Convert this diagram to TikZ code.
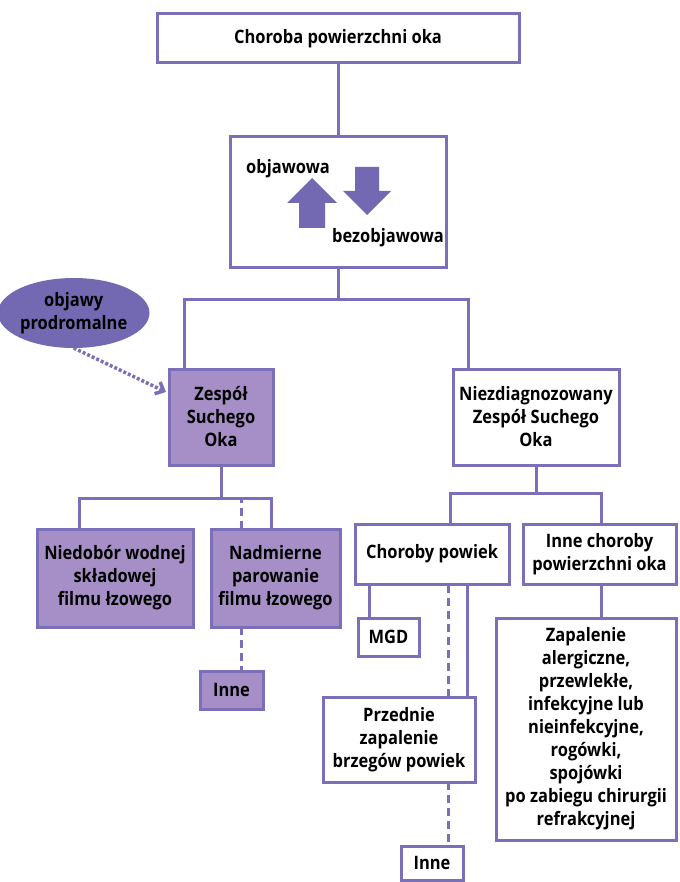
\documentclass[tikz,border=0pt]{standalone}
\usepackage{fontspec}
\setmainfont{Open Sans}[BoldFeatures={FakeStretch=0.89}]
\usetikzlibrary{shapes, arrows.meta, positioning}
\definecolor{lineC}{RGB}{122,112,186}
\definecolor{lavC}{RGB}{166,143,198}
\definecolor{ovalC}{RGB}{115,104,178}

\begin{document}
\begin{tikzpicture}[x=1pt, y=-1pt,
        box/.style={draw=lineC, line width=3pt, rectangle, align=center, fill=white, inner sep=0pt, outer sep=0pt, font=\fontsize{18.5}{23}\selectfont\bfseries},
        dsobox/.style={box, fill=lavC},
        txt/.style={inner sep=0pt, font=\fontsize{18.5}{23}\selectfont\bfseries},
        link/.style={draw=lineC, line width=3pt},
        dashlink/.style={link, dash pattern=on 8pt off 5pt},
        arrow/.style={-{Straight Barb[length=7pt, width=13pt]}, lineC, line width=3.5pt, dash pattern=on 3pt off 2pt}
    ]
        \useasboundingbox (0,0) rectangle (679,882);
        \node[box, minimum width=362pt, minimum height=49pt] (top) at (338,38.5) {Choroba powierzchni oka};
        \node[box, minimum width=216pt, minimum height=131pt, below=74pt of top] (mid) {};
        \node[txt] (sympt) at (288,169) {objawowa};
        \node[txt] (asympt) at (388,238) {bezobjawowa};
        \fill[ovalC] (299,228) -- (299,203) -- (287,203) -- (312,178) -- (337,203) -- (325,203) -- (325,228) -- cycle;
        \fill[ovalC] (355,167) -- (379,167) -- (379,191) -- (391,191) -- (367,215) -- (343,191) -- (355,191) -- cycle;
        \node[dsobox, minimum width=104pt, minimum height=96pt, below=101pt of mid, xshift=-117pt] (dso) {Zespół\\Suchego\\Oka};
        \node[box, minimum width=166pt, minimum height=96pt, right=180pt of dso] (undiag) {Niezdiagnozowany\\Zespół Suchego\\Oka};
        \node[ellipse, fill=ovalC, inner sep=0pt, outer sep=0pt, minimum width=143pt, minimum height=70pt, align=center, font=\fontsize{18.5}{23}\selectfont\bfseries, left=19.5pt of dso, yshift=104pt] (prodrom) {objawy\\prodromalne};
        \node[dsobox, minimum width=156pt, minimum height=98pt, below=64pt of dso, xshift=-106pt] (niedobor) {Niedobór wodnej\\składowej\\filmu łzowego};
        \node[dsobox, minimum width=129pt, minimum height=98pt, right=18pt of niedobor] (nadmierne) {Nadmierne\\parowanie\\filmu łzowego};
        \node[dsobox, minimum width=63pt, minimum height=38pt, below=44pt of nadmierne, xshift=-44pt] (inne1) {Inne};
        \node[box, minimum width=154pt, minimum height=60pt, below=59pt of undiag, xshift=-104pt] (powieki) {Choroby powiek};
        \node[box, minimum width=153pt, minimum height=60pt, right=14pt of powieki] (innePow) {Inne choroby\\powierzchni oka};
        \node[box, minimum width=61pt, minimum height=38pt, below=34pt of powieki, xshift=-43.5pt] (mgd) {MGD};
        \node[box, minimum width=152pt, minimum height=85pt, below=113pt of powieki, xshift=-33pt] (przednie) {Przednie\\zapalenie\\brzegów powiek};
        \node[box, minimum width=62pt, minimum height=34pt, below=64pt of przednie, xshift=33pt] (inne2) {Inne};
        \node[box, minimum width=180pt, minimum height=222pt, below=34pt of innePow, xshift=-13.5pt] (zapalenie) {Zapalenie\\alergiczne,\\przewlekłe,\\infekcyjne lub\\nieinfekcyjne,\\rogówki,\\spojówki\\po zabiegu chirurgii\\refrakcyjnej};

        % forks
        \coordinate[below=31pt of mid] (fork1);
        \coordinate[below=33pt of dso] (fork2);
        \coordinate[below=28pt of undiag] (fork3);

        \draw[link] (top) -- (mid);
        \draw[link] (mid) -- (fork1);
        \draw[link] ([xshift=-37pt]dso.north) |- (fork1) -| ([xshift=-68pt]undiag.north);
        \draw[link] (dso) -- (fork2);
        \draw[link] ([xshift=-36pt]niedobor.north) |- (fork2) -| ([xshift=-4.5pt]nadmierne.north);
        \draw[dashlink] ([xshift=-34.5pt]nadmierne.north) -- ([xshift=-34.5pt]nadmierne.north |- fork2);
        \draw[dashlink] ([xshift=-34.5pt]nadmierne.south) -- ([xshift=-34.5pt]nadmierne.south |- inne1.north);
        \draw[link] (undiag) -- (fork3);
        \draw[link] ([xshift=18pt]powieki.north) |- (fork3) -| ([xshift=1.5pt]innePow.north);
        \draw[link] ([xshift=-19.5pt]mgd.north) -- ([xshift=-19.5pt]mgd.north |- powieki.south);
        \draw[link] ([xshift=68pt]przednie.north) -- ([xshift=68pt]przednie.north |- powieki.south);
        \draw[dashlink] ([xshift=49pt]przednie.north) -- ([xshift=49pt]przednie.north |- powieki.south);
        \draw[dashlink] ([xshift=49pt]przednie.south) -- ([xshift=49pt]przednie.south |- inne2.north);
        \draw[link] ([xshift=15pt]zapalenie.north) -- ([xshift=15pt]zapalenie.north |- innePow.south);
        \draw[arrow] (prodrom.south) -- ([yshift=25pt, xshift=-3pt]dso.west);
\end{tikzpicture}
\end{document}
